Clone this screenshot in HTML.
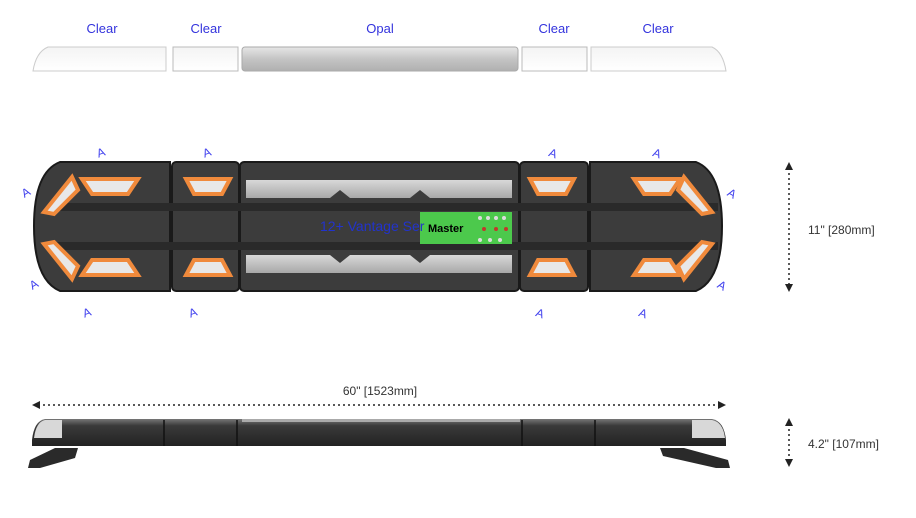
<!DOCTYPE html>
<html><head><style>
body{margin:0;background:#fff;width:916px;height:513px;overflow:hidden;font-family:"Liberation Sans",sans-serif}
</style></head><body>
<svg width="916" height="513" viewBox="0 0 916 513" xmlns="http://www.w3.org/2000/svg" font-family="Liberation Sans, sans-serif">
<defs>
<linearGradient id="opal" x1="0" y1="0" x2="0" y2="1"><stop offset="0" stop-color="#e6e6e6"/><stop offset="0.5" stop-color="#c4c4c4"/><stop offset="1" stop-color="#b0b0b0"/></linearGradient>
<linearGradient id="clr" x1="0" y1="0" x2="0" y2="1"><stop offset="0" stop-color="#f4f4f4"/><stop offset="1" stop-color="#fff"/></linearGradient>
<linearGradient id="side" x1="0" y1="0" x2="0" y2="1"><stop offset="0" stop-color="#777"/><stop offset="0.25" stop-color="#3a3a3a"/><stop offset="1" stop-color="#222"/></linearGradient>
<linearGradient id="alu" x1="0" y1="0" x2="0" y2="1"><stop offset="0" stop-color="#d8d8d8"/><stop offset="1" stop-color="#a8a8a8"/></linearGradient>
</defs>
<g fill="#3333dd" font-size="13" text-anchor="middle">
<text x="102" y="33">Clear</text><text x="206" y="33">Clear</text><text x="380" y="33">Opal</text><text x="554" y="33">Clear</text><text x="658" y="33">Clear</text>
</g>
<path d="M48 47 H166 V71 H33 Q36 52 48 47Z" fill="url(#clr)" stroke="#ccc"/>
<rect x="173" y="47" width="65" height="24" fill="url(#clr)" stroke="#bbb"/>
<rect x="242" y="47" width="276" height="24" rx="3" fill="url(#opal)" stroke="#aaa"/>
<rect x="522" y="47" width="65" height="24" fill="url(#clr)" stroke="#bbb"/>
<path d="M591 47 H712 Q723 52 726 71 H591Z" fill="url(#clr)" stroke="#ccc"/>

<g stroke="#1a1a1a" stroke-width="2">
<path d="M60 162 H170 V291 H60 Q34 280 34 226 Q34 172 60 162Z" fill="#3c3c3c"/>
<rect x="172" y="162" width="67" height="129" rx="4" fill="#3c3c3c"/>
<rect x="240" y="162" width="279" height="129" rx="4" fill="#3c3c3c"/>
<rect x="520" y="162" width="68" height="129" rx="4" fill="#3c3c3c"/>
<path d="M590 162 H696 Q722 172 722 226 Q722 280 696 291 H590Z" fill="#3c3c3c"/>
</g>
<g fill="#2a2a2a">
<rect x="50" y="203" width="668" height="8"/><rect x="50" y="242" width="668" height="8"/>
</g>
<path d="M246 180 H512 V198 H430 L420 190 L410 198 H350 L340 190 L330 198 H246Z" fill="url(#alu)"/>
<path d="M246 255 H330 L340 263 L350 255 H410 L420 263 L430 255 H512 V273 H246Z" fill="url(#alu)"/>
<g fill="#e8e8e8" stroke="#f08a3c" stroke-width="4">
<path d="M82 179 H138 L128 194 H92Z"/><path d="M82 275 H138 L128 260 H92Z"/>
<path d="M186 179 H230 L222 194 H194Z"/><path d="M186 275 H230 L222 260 H194Z"/>
<path d="M530 179 H574 L566 194 H538Z"/><path d="M530 275 H574 L566 260 H538Z"/>
<path d="M634 179 H680 L670 194 H644Z"/><path d="M634 275 H680 L670 260 H644Z"/>
<path d="M44 212 L72 177 L78 190 L54 214Z"/><path d="M44 244 L72 279 L78 266 L54 242Z"/>
<path d="M712 212 L684 177 L678 190 L702 214Z"/><path d="M712 244 L684 279 L678 266 L702 242Z"/>
</g>
<rect x="420" y="212" width="92" height="32" fill="#4cc94c"/>
<g fill="#ddd"><circle cx="480" cy="218" r="2"/><circle cx="488" cy="218" r="2"/><circle cx="496" cy="218" r="2"/><circle cx="504" cy="218" r="2"/><circle cx="480" cy="240" r="2"/><circle cx="490" cy="240" r="2"/><circle cx="500" cy="240" r="2"/></g>
<g fill="#c0392b"><circle cx="484" cy="229" r="2"/><circle cx="496" cy="229" r="2"/><circle cx="506" cy="229" r="2"/></g>
<text x="320" y="231" font-size="14" fill="#2233cc">12+ Vantage Ser</text>
<text x="428" y="232" font-size="11" fill="#000" font-weight="bold">Master</text>
<g fill="#4444ee" font-size="12">
<text x="97" y="157" transform="rotate(-20 100 153)">A</text>
<text x="203" y="157" transform="rotate(-20 206 153)">A</text>
<text x="549" y="157" transform="rotate(20 552 153)">A</text>
<text x="653" y="157" transform="rotate(20 656 153)">A</text>
<text x="22" y="197" transform="rotate(-30 25 193)">A</text>
<text x="30" y="289" transform="rotate(-30 33 285)">A</text>
<text x="728" y="197" transform="rotate(30 731 193)">A</text>
<text x="718" y="289" transform="rotate(30 721 285)">A</text>
<text x="83" y="317" transform="rotate(-20 86 313)">A</text>
<text x="189" y="317" transform="rotate(-20 192 313)">A</text>
<text x="536" y="317" transform="rotate(20 539 313)">A</text>
<text x="639" y="317" transform="rotate(20 642 313)">A</text>
</g>
<g stroke="#222" stroke-width="1.5" stroke-dasharray="2 3">
<line x1="789" y1="168" x2="789" y2="287"/>
<line x1="789" y1="424" x2="789" y2="462"/>
<line x1="38" y1="405" x2="720" y2="405"/>
</g>
<g fill="#222">
<path d="M789 162 L785 170 L793 170Z"/><path d="M789 292 L785 284 L793 284Z"/>
<path d="M789 418 L785 426 L793 426Z"/><path d="M789 467 L785 459 L793 459Z"/>
<path d="M32 405 L40 401 L40 409Z"/><path d="M726 405 L718 401 L718 409Z"/>
</g>
<g fill="#333" font-size="12">
<text x="808" y="234">11" [280mm]</text>
<text x="808" y="448">4.2" [107mm]</text>
<text x="380" y="395" text-anchor="middle">60" [1523mm]</text>
</g>
<path d="M45 419 H712 Q724 421 726 440 V446 H32 V440 Q34 421 45 419Z" fill="url(#side)"/>
<path d="M45 420 H62 V438 H34 Q36 422 45 420Z" fill="#d8d8d8"/>
<path d="M692 420 H712 Q723 422 725 438 H692Z" fill="#d8d8d8"/>
<rect x="242" y="419" width="278" height="3" fill="#aaa"/>
<g stroke="#111" stroke-width="1.5"><line x1="164" y1="420" x2="164" y2="446"/><line x1="237" y1="420" x2="237" y2="446"/><line x1="522" y1="420" x2="522" y2="446"/><line x1="595" y1="420" x2="595" y2="446"/></g>
<path d="M55 448 L78 448 L75 458 L40 468 L28 468 L30 460Z" fill="#2a2a2a"/>
<path d="M660 448 L684 448 L728 460 L730 468 L716 468 L663 456Z" fill="#2a2a2a"/>
</svg>
</body></html>
